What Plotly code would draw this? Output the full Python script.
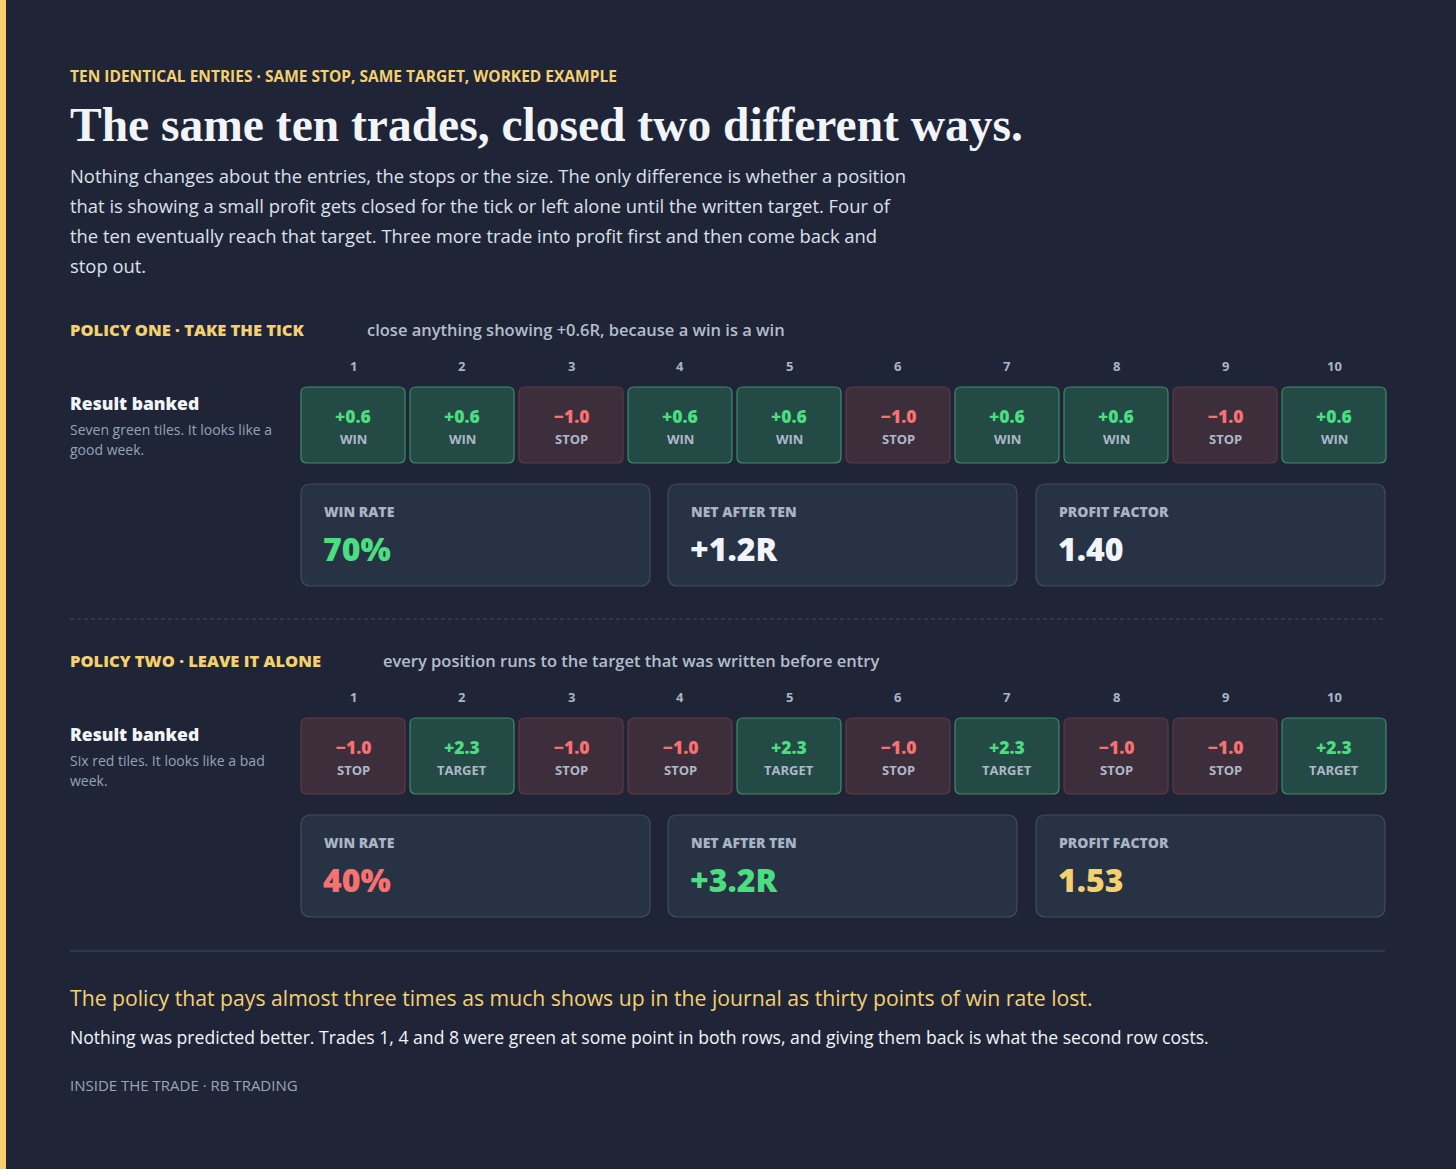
import plotly.graph_objects as go

# ---- data ----
trade_numbers = list(range(1, 11))
policy_one_results = [0.6, 0.6, -1.0, 0.6, 0.6, -1.0, 0.6, 0.6, -1.0, 0.6]
policy_one_tags = ["WIN", "WIN", "STOP", "WIN", "WIN", "STOP", "WIN", "WIN", "STOP", "WIN"]
policy_two_results = [-1.0, 2.3, -1.0, -1.0, 2.3, -1.0, 2.3, -1.0, -1.0, 2.3]
policy_two_tags = ["STOP", "TARGET", "STOP", "STOP", "TARGET", "STOP", "TARGET", "STOP", "STOP", "TARGET"]
metric_names = ["WIN RATE", "NET AFTER TEN", "PROFIT FACTOR"]

BG = "#1f2537"
YEL = "#f5d06f"
GREEN = "#4ade80"
RED = "#f87171"
WHITE = "#f1f5f9"
GRAY = "#94a3b8"
SANS = "Open Sans"

W, H = 1456, 1169
fig = go.Figure()


def rrect(x0, y0, x1, y1, r):
    return (f"M{x0+r},{y0} L{x1-r},{y0} Q{x1},{y0} {x1},{y0+r} L{x1},{y1-r} "
            f"Q{x1},{y1} {x1-r},{y1} L{x0+r},{y1} Q{x0},{y1} {x0},{y1-r} "
            f"L{x0},{y0+r} Q{x0},{y0} {x0+r},{y0} Z")


def text(x, y, s, size, color, weight=400, family=SANS, anchor="left"):
    fig.add_annotation(x=x, y=y, xref="x", yref="y", text=s, showarrow=False,
                       xanchor=anchor, yanchor="middle",
                       font=dict(family=family, size=size, color=color, weight=weight))


def fmt(v):
    return ("+" if v > 0 else "\u2212") + f"{abs(v):.1f}"


# left accent bar
fig.add_shape(type="rect", x0=0, x1=6, y0=0, y1=H, fillcolor="#f9cf6e", line_width=0)

# header
text(68, 76, "TEN IDENTICAL ENTRIES · SAME STOP, SAME TARGET, WORKED EXAMPLE", 15.5, YEL, 700)
text(68, 125, "The same ten trades, closed two different ways.", 47.5, WHITE, 700, "Liberation Serif")
para = [
    "Nothing changes about the entries, the stops or the size. The only difference is whether a position",
    "that is showing a small profit gets closed for the tick or left alone until the written target. Four of",
    "the ten eventually reach that target. Three more trade into profit first and then come back and",
    "stop out.",
]
for i, line in enumerate(para):
    text(68, 175 + 30 * i, line, 18.4, "#dbe1ea")


def policy_block(top, title, subtitle, sub_x, note, results, tags):
    text(68, top, title, 16.5, YEL, 800)
    text(sub_x, top, subtitle, 16.5, "#b4bdcc", 600)
    # column numbers and tiles
    for i, (n, v, t) in enumerate(zip(trade_numbers, results, tags)):
        cx = 353 + 109 * i
        text(cx, top + 37, str(n), 13, "#a9b4c6", 700, anchor="center")
        win = v > 0
        fig.add_shape(type="path", path=rrect(cx - 52, top + 58, cx + 52, top + 134, 6),
                      fillcolor="#244a46" if win else "#3d2e3c",
                      line=dict(color="#3f8c68" if win else "#633844", width=1.2))
        text(cx, top + 87, fmt(v), 17.5, GREEN if win else RED, 800, anchor="center")
        text(cx, top + 110, t, 13, "#aeb8c8", 700, anchor="center")
    text(68, top + 74, "Result banked", 17.5, WHITE, 800)
    for j, line in enumerate(note):
        text(68, top + 100 + 20 * j, line, 14, GRAY)
    # metric values derived from the results
    wins = [v for v in results if v > 0]
    losses = [v for v in results if v < 0]
    win_rate = len(wins) / len(results)
    net = sum(results)
    pf = sum(wins) / -sum(losses)
    return [f"{win_rate*100:.0f}%", f"{'+' if net > 0 else ''}{net:.1f}R", f"{pf:.2f}"]


cards_x = [301, 668, 1036]


def cards(top, values, colors):
    for x0, name, val, col in zip(cards_x, metric_names, values, colors):
        fig.add_shape(type="path", path=rrect(x0, top, x0 + 349, top + 102, 10),
                      fillcolor="#283245", line=dict(color="#3f4b60", width=1.2))
        text(x0 + 21, top + 27, name, 14, "#a9b4c6", 800)
        text(x0 + 20, top + 64, val, 32, col, 800)


vals1 = policy_block(329, "POLICY ONE · TAKE THE TICK",
                     "close anything showing +0.6R, because a win is a win", 365,
                     ["Seven green tiles. It looks like a", "good week."],
                     policy_one_results, policy_one_tags)
cards(484, vals1, [GREEN, WHITE, WHITE])

fig.add_shape(type="line", x0=70, x1=1385, y0=619, y1=619,
              line=dict(color="#3f4b60", width=1, dash="4px,3px"))

vals2 = policy_block(660, "POLICY TWO · LEAVE IT ALONE",
                     "every position runs to the target that was written before entry", 381,
                     ["Six red tiles. It looks like a bad", "week."],
                     policy_two_results, policy_two_tags)
cards(815, vals2, [RED, GREEN, YEL])

fig.add_shape(type="line", x0=70, x1=1385, y0=951, y1=951, line=dict(color="#3f4b60", width=1.2))

text(68, 997, "The policy that pays almost three times as much shows up in the journal as thirty points of win rate lost.",
     21.2, YEL, 500)
text(68, 1037, "Nothing was predicted better. Trades 1, 4 and 8 were green at some point in both rows, and giving them back is what the second row costs.",
     17.6, WHITE, 500)
text(68, 1085, "INSIDE THE TRADE · RB TRADING", 15, "#9ba6b8", 500)

fig.update_layout(
    width=W, height=H,
    margin=dict(l=0, r=0, t=0, b=0),
    paper_bgcolor=BG, plot_bgcolor=BG,
    showlegend=False,
    xaxis=dict(range=[0, W], visible=False, fixedrange=True),
    yaxis=dict(range=[H, 0], visible=False, fixedrange=True),
)

fig.write_html("out.html", config={"displayModeBar": False},
               post_script=f"document.body.style.margin='0';document.body.style.background='{BG}';")
